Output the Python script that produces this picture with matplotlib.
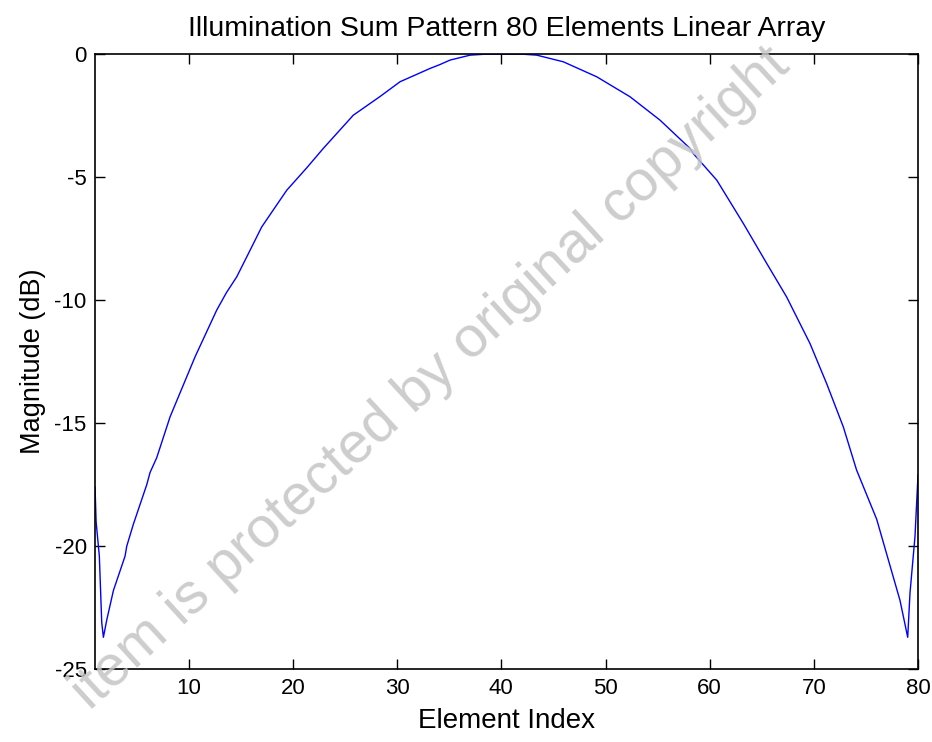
import matplotlib.pyplot as plt

plt.rcParams['font.family'] = ['Liberation Sans', 'DejaVu Sans']
plt.rcParams['axes.unicode_minus'] = False

# sum pattern illumination (element index, dB)
element_idx = [1.0, 1.1, 1.41, 1.64, 1.80, 2.12, 2.76, 3.88, 4.04, 4.68, 5.96, 6.28,
               6.92, 8.20, 10.6, 12.68, 13.6, 14.6, 15.88, 17.0, 19.4, 21.32, 22.91,
               25.79, 28.36, 30.28, 33.16, 34.12, 35.08, 37.0, 38.5, 40.2, 42.0, 43.4,
               45.95, 49.16, 52.35, 55.23, 58.11, 58.43, 60.68, 63.23, 65.47, 67.39,
               69.63, 71.23, 72.83, 74.1, 76.03, 78.27, 79.01, 79.23, 79.71, 80.0]
magnitude_db = [-17.6, -19.0, -20.4, -23.1, -23.7, -23.0, -21.8, -20.4, -20.0, -19.1,
                -17.5, -17.0, -16.4, -14.74, -12.3, -10.4, -9.7, -9.05, -7.97, -7.02,
                -5.53, -4.62, -3.83, -2.48, -1.72, -1.12, -0.58, -0.42, -0.24, -0.04,
                0.0, 0.0, 0.0, -0.04, -0.31, -0.92, -1.73, -2.68, -3.83, -4.04, -5.12,
                -6.88, -8.5, -9.87, -11.76, -13.39, -15.15, -16.9, -18.9, -22.2, -23.7,
                -21.9, -19.6, -17.1]

x_ticks = [10, 20, 30, 40, 50, 60, 70, 80]
y_ticks = [0, -5, -10, -15, -20, -25]

fig = plt.figure(figsize=(9.32, 7.42), dpi=100)
ax = fig.add_axes([0.102, 0.098, 0.883, 0.829])

ax.plot(element_idx, magnitude_db, color='#0000ff', lw=1.0)

ax.set_xlim(1, 80)
ax.set_ylim(-25, 0)
ax.set_xticks(x_ticks)
ax.set_yticks(y_ticks)
ax.tick_params(direction='in', length=7, width=1, top=True, right=True,
               labelsize=16, pad=6, colors='black')
for s in ax.spines.values():
    s.set_linewidth(1.2)

ax.set_title("Illumination Sum Pattern 80 Elements Linear Array", fontsize=20.5, pad=13)
ax.set_xlabel("Element Index", fontsize=20, labelpad=7)
ax.set_ylabel("Magnitude (dB)", fontsize=19.5, labelpad=6)

fig.text(0.462, 0.49, "item is protected by original copyright", fontsize=41.5,
         color='#c4c4c4', alpha=0.85, rotation=42.5, ha='center', va='center',
         rotation_mode='anchor', zorder=10)

fig.savefig("out.png", dpi=100)
